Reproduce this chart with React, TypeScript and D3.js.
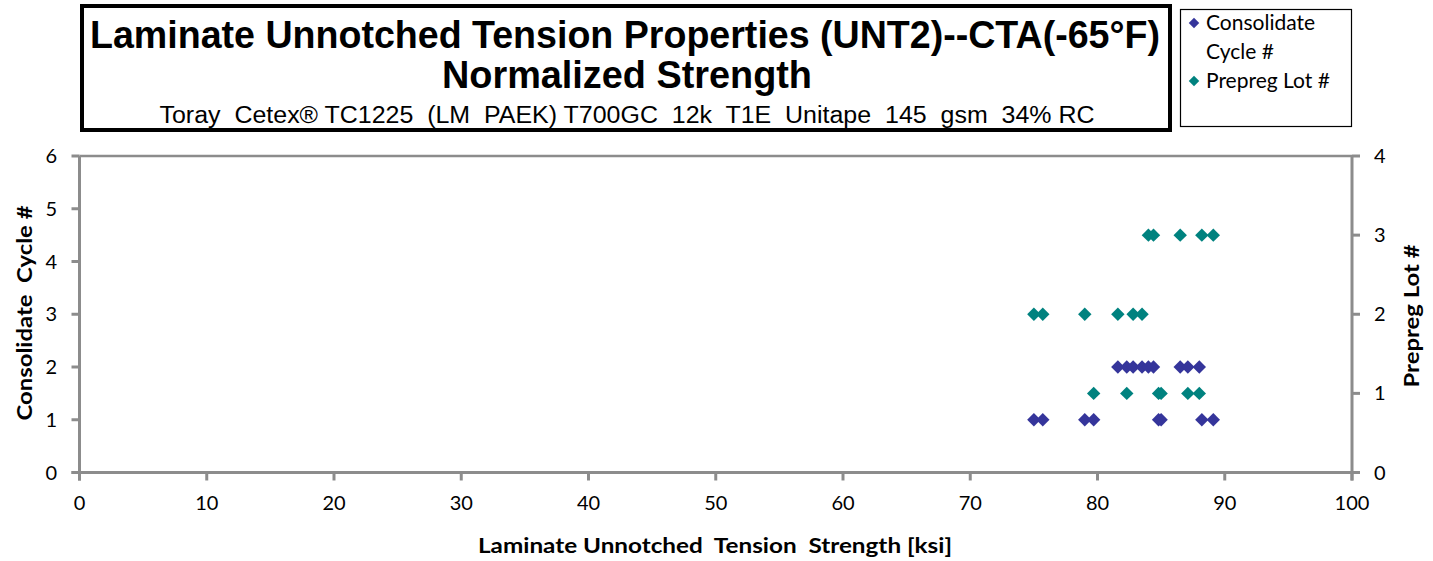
import React from "react";
import * as d3 from "d3";

const xTicks = [0, 10, 20, 30, 40, 50, 60, 70, 80, 90, 100];
const yLeftTicks = [0, 1, 2, 3, 4, 5, 6];
const yRightTicks = [0, 1, 2, 3, 4];

// Consolidate Cycle # series (left axis)
const cycleStrength = [75.0, 75.7, 79.0, 79.7, 84.8, 85.0, 88.2, 89.1, 81.6, 82.3, 82.8, 83.5, 84.0, 84.4, 86.5, 87.1, 88.0];
const cycleValue = [1, 1, 1, 1, 1, 1, 1, 1, 2, 2, 2, 2, 2, 2, 2, 2, 2];

// Prepreg Lot # series (right axis)
const lotStrength = [79.7, 82.3, 84.8, 85.0, 87.1, 88.0, 75.0, 75.7, 79.0, 81.6, 82.8, 83.5, 84.0, 84.4, 86.5, 88.2, 89.1];
const lotValue = [1, 1, 1, 1, 1, 1, 2, 2, 2, 2, 2, 2, 3, 3, 3, 3, 3];

const titleLine1 = "Laminate Unnotched Tension Properties (UNT2)--CTA(-65°F)";
const titleLine2 = "Normalized Strength";
const subtitle = "Toray  Cetex® TC1225  (LM  PAEK) T700GC  12k  T1E  Unitape  145  gsm  34% RC";
const xTitle = "Laminate Unnotched  Tension  Strength [ksi]";
const yLeftTitle = "Consolidate  Cycle #";
const yRightTitle = "Prepreg Lot #";
const legendLabels = ["Consolidate", "Cycle #", "Prepreg Lot #"];

const BLUE = "#35359b";
const TEAL = "#00827f";
const AXIS = "#8c8c8c";
const FONT = "Lato, 'Open Sans', sans-serif";

export default function App() {
  const x = d3.scaleLinear().domain([0, 100]).range([79.5, 1352]);
  const yL = d3.scaleLinear().domain([0, 6]).range([472.5, 156]);
  const yR = d3.scaleLinear().domain([0, 4]).range([472.5, 156]);
  const diamond = d3.symbol().type(d3.symbolSquare).size(90)();
  const legendDiamond = d3.symbol().type(d3.symbolSquare).size(55)();

  const x0 = x(0), x1 = x(100), yTop = yL(6), yBot = yL(0);

  return (
    <div style={{ position: "absolute", left: 0, top: 0 }}>
      <svg width={1433} height={561} style={{ display: "block", background: "#fff" }}>
        {/* Title box */}
        <rect x={82} y={6} width={1088} height={124} fill="#fff" stroke="#000" strokeWidth={4} />
        <text x={625} y={48} textAnchor="middle" fontFamily="'Liberation Sans', Arial, sans-serif" fontWeight="bold" fontSize={38}
          textLength={1070} lengthAdjust="spacingAndGlyphs">{titleLine1}</text>
        <text x={627} y={88} textAnchor="middle" fontFamily="'Liberation Sans', Arial, sans-serif" fontWeight="bold" fontSize={38}
          textLength={370} lengthAdjust="spacingAndGlyphs">{titleLine2}</text>
        <text x={627} y={123} textAnchor="middle" fontFamily="'Liberation Sans', Arial, sans-serif" fontSize={23}
          textLength={935} lengthAdjust="spacingAndGlyphs" style={{ whiteSpace: "pre" }}>{subtitle}</text>

        {/* Legend */}
        <rect x={1180.5} y={9.5} width={171} height={117} fill="#fff" stroke="#000" strokeWidth={1.2} />
        <path d={legendDiamond} transform={`translate(1194,23) rotate(45)`} fill={BLUE} />
        <text x={1206} y={30} fontFamily={FONT} fontSize={21} fill="#000">{legendLabels[0]}</text>
        <text x={1206} y={59} fontFamily={FONT} fontSize={21} fill="#000">{legendLabels[1]}</text>
        <path d={legendDiamond} transform={`translate(1194,81) rotate(45)`} fill={TEAL} />
        <text x={1206} y={88} fontFamily={FONT} fontSize={21} fill="#000">{legendLabels[2]}</text>

        {/* Plot frame */}
        <line x1={x0} x2={x1} y1={yTop} y2={yTop} stroke={AXIS} strokeWidth={2.5} />
        <line x1={x0} x2={x0} y1={yTop} y2={yBot + 8} stroke={AXIS} strokeWidth={3} />
        <line x1={x1} x2={x1} y1={yTop} y2={yBot + 8} stroke={AXIS} strokeWidth={3} />
        <line x1={x0 - 8} x2={x1 + 8} y1={yBot} y2={yBot} stroke={AXIS} strokeWidth={3} />

        {/* Left axis ticks */}
        {yLeftTicks.map((t) => (
          <g key={"yl" + t}>
            <line x1={x0 - 8} x2={x0} y1={yL(t)} y2={yL(t)} stroke={AXIS} strokeWidth={3} />
            <text x={57} y={yL(t)} dy="0.35em" textAnchor="end" fontFamily={FONT} fontSize={20}>{t}</text>
          </g>
        ))}
        {/* Right axis ticks */}
        {yRightTicks.map((t) => (
          <g key={"yr" + t}>
            <line x1={x1} x2={x1 + 8} y1={yR(t)} y2={yR(t)} stroke={AXIS} strokeWidth={3} />
            <text x={1374} y={yR(t)} dy="0.35em" textAnchor="start" fontFamily={FONT} fontSize={20}>{t}</text>
          </g>
        ))}
        {/* Bottom axis ticks */}
        {xTicks.map((t) => (
          <g key={"x" + t}>
            <line x1={x(t)} x2={x(t)} y1={yBot} y2={yBot + 8} stroke={AXIS} strokeWidth={3} />
            <text x={x(t)} y={510} textAnchor="middle" fontFamily={FONT} fontSize={20}>{t}</text>
          </g>
        ))}

        {/* Axis titles */}
        <text x={715} y={553} textAnchor="middle" fontFamily={FONT} fontWeight="bold" fontSize={20}
          textLength={474} lengthAdjust="spacingAndGlyphs" style={{ whiteSpace: "pre" }}>{xTitle}</text>
        <text transform={`translate(32,313) rotate(-90)`} textAnchor="middle" fontFamily={FONT} fontWeight="bold" fontSize={20}
          textLength={215} lengthAdjust="spacingAndGlyphs" style={{ whiteSpace: "pre" }}>{yLeftTitle}</text>
        <text transform={`translate(1419,316) rotate(-90)`} textAnchor="middle" fontFamily={FONT} fontWeight="bold" fontSize={20}
          textLength={143} lengthAdjust="spacingAndGlyphs">{yRightTitle}</text>

        {/* Data */}
        {cycleStrength.map((s, i) => (
          <path key={"c" + i} d={diamond} transform={`translate(${x(s)},${yL(cycleValue[i])}) rotate(45)`} fill={BLUE} />
        ))}
        {lotStrength.map((s, i) => (
          <path key={"l" + i} d={diamond} transform={`translate(${x(s)},${yR(lotValue[i])}) rotate(45)`} fill={TEAL} />
        ))}
      </svg>
    </div>
  );
}
